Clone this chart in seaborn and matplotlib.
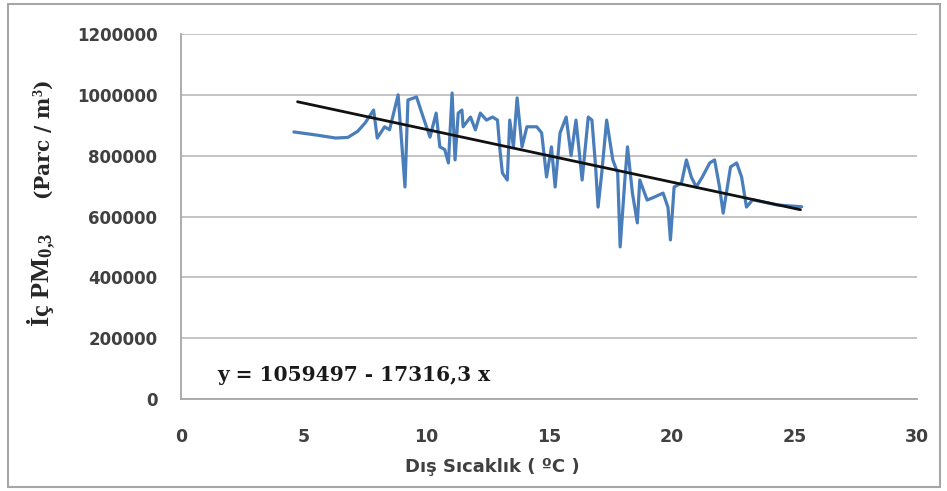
import matplotlib
matplotlib.use("Agg")
import matplotlib.pyplot as plt
import seaborn as sns
import numpy as np
import pandas as pd
from matplotlib.patches import Rectangle

# ---- data ----
temps = [4.6, 5.5, 6.3, 6.8, 7.2, 7.5, 7.85, 8.0, 8.3, 8.5, 8.85, 9.13, 9.25, 9.6,
         9.87, 10.15, 10.4, 10.55, 10.75, 10.9, 11.05, 11.17, 11.3, 11.45, 11.5,
         11.8, 12.0, 12.2, 12.45, 12.7, 12.9, 13.0, 13.1, 13.3, 13.4, 13.55, 13.7,
         13.9, 14.1, 14.5, 14.7, 14.9, 15.1, 15.25, 15.45, 15.7, 15.9, 16.1, 16.35,
         16.6, 16.75, 16.9, 17.0, 17.15, 17.35, 17.6, 17.8, 17.9, 18.1, 18.2, 18.4,
         18.6, 18.7, 19.0, 19.3, 19.65, 19.85, 19.95, 20.1, 20.4, 20.6, 20.8, 21.0,
         21.25, 21.55, 21.75, 21.95, 22.1, 22.4, 22.65, 22.85, 23.05, 23.3, 24.3, 25.3]
pm03 = [878000, 868000, 858000, 860000, 880000, 907000, 950000, 858000, 895000,
        885000, 1000000, 697000, 983000, 993000, 927000, 861000, 940000, 829000,
        820000, 776000, 1006000, 786000, 940000, 950000, 895000, 927000, 885000,
        940000, 917000, 927000, 917000, 819000, 743000, 720000, 917000, 829000,
        990000, 829000, 895000, 895000, 875000, 730000, 829000, 697000, 875000,
        927000, 800000, 917000, 720000, 927000, 917000, 763000, 631000, 743000,
        917000, 786000, 743000, 500000, 730000, 829000, 677000, 579000, 720000,
        654000, 664000, 677000, 630000, 523000, 697000, 710000, 786000, 730000,
        697000, 730000, 776000, 786000, 697000, 611000, 763000, 776000, 730000,
        631000, 655000, 638000, 632000]

# trend line from the printed equation
intercept = 1059497
slope = -17316.3
trend_x = [4.75, 25.25]
trend_y = [intercept + slope * t for t in trend_x]

x_ticks = [0, 5, 10, 15, 20, 25, 30]
y_ticks = [0, 200000, 400000, 600000, 800000, 1000000, 1200000]
y_tick_labels = [str(v) for v in y_ticks]

df = pd.DataFrame({"temp": temps, "pm": pm03})
df_trend = pd.DataFrame({"temp": trend_x, "pm": trend_y})

sns.set_theme(style="white")
plt.rcParams["font.family"] = ["DejaVu Sans"]
plt.rcParams["mathtext.fontset"] = "custom"
plt.rcParams["mathtext.rm"] = "Liberation Serif:bold"
plt.rcParams["mathtext.bf"] = "Liberation Serif:bold"
plt.rcParams["mathtext.it"] = "Liberation Serif:bold"

W, H = 947, 491
fig = plt.figure(figsize=(W / 100, H / 100), dpi=100)
fig.patch.set_facecolor("white")
ax = fig.add_axes([181 / W, 1 - 399 / H, (917 - 181) / W, (399 - 34) / H])

sns.lineplot(data=df, x="temp", y="pm", ax=ax, color="#4a7ebb", lw=2.3,
             estimator=None, sort=False)
sns.lineplot(data=df_trend, x="temp", y="pm", ax=ax, color="#111111", lw=2.0,
             estimator=None, sort=False)

ax.set_xlim(0, 30)
ax.set_ylim(0, 1200000)
ax.set_xticks(x_ticks)
ax.set_yticks(y_ticks)
ax.set_yticklabels(y_tick_labels)
ax.set_xlabel("")
ax.set_ylabel("")
ax.grid(axis="y", color="#c4c4c4", lw=1.4)
ax.set_axisbelow(True)
for s in ["top", "right"]:
    ax.spines[s].set_visible(False)
for s in ["left", "bottom"]:
    ax.spines[s].set_color("#a6a6a6")
    ax.spines[s].set_linewidth(1.3)
ax.tick_params(axis="both", length=0)
ax.tick_params(axis="y", pad=17)
ax.tick_params(axis="x", pad=21)
for lab in ax.get_yticklabels():
    lab.set_fontfamily("DejaVu Sans")
    lab.set_fontweight("bold")
    lab.set_fontsize(12)
    lab.set_color("#404040")
for lab in ax.get_xticklabels():
    lab.set_fontfamily("DejaVu Sans")
    lab.set_fontweight("bold")
    lab.set_fontsize(12.5)
    lab.set_color("#404040")

# x label
fig.text(492 / W, 1 - 467 / H, "Dış Sıcaklık ( ºC )", ha="center", va="center",
         fontfamily="DejaVu Sans", fontweight="bold", fontsize=13, color="#404040")

# y label (two parts)
fig.text(50 / W, 1 - 327 / H, r"İç PM$_{0{,}3}$", rotation=90, rotation_mode="anchor",
         ha="left", va="baseline", fontfamily="Liberation Serif", fontweight="bold",
         fontsize=19, color="#262626")
fig.text(50 / W, 1 - 200 / H, r"(Parc / m$^{3}$)", rotation=90, rotation_mode="anchor",
         ha="left", va="baseline", fontfamily="DejaVu Serif", fontweight="bold",
         fontsize=14.5, color="#262626")

# equation
fig.text(217 / W, 1 - 381 / H, "y = 1059497 - 17316,3 x", ha="left", va="baseline",
         fontfamily="DejaVu Serif", fontweight="bold", fontsize=14.5, color="#1a1a1a")

# outer chart border
fig.patches.append(Rectangle((8 / W, 1 - 487 / H), (940 - 8) / W, (487 - 4) / H,
                             transform=fig.transFigure, fill=False,
                             edgecolor="#a6a6a6", lw=1.5))

fig.savefig("out.png", dpi=100)
